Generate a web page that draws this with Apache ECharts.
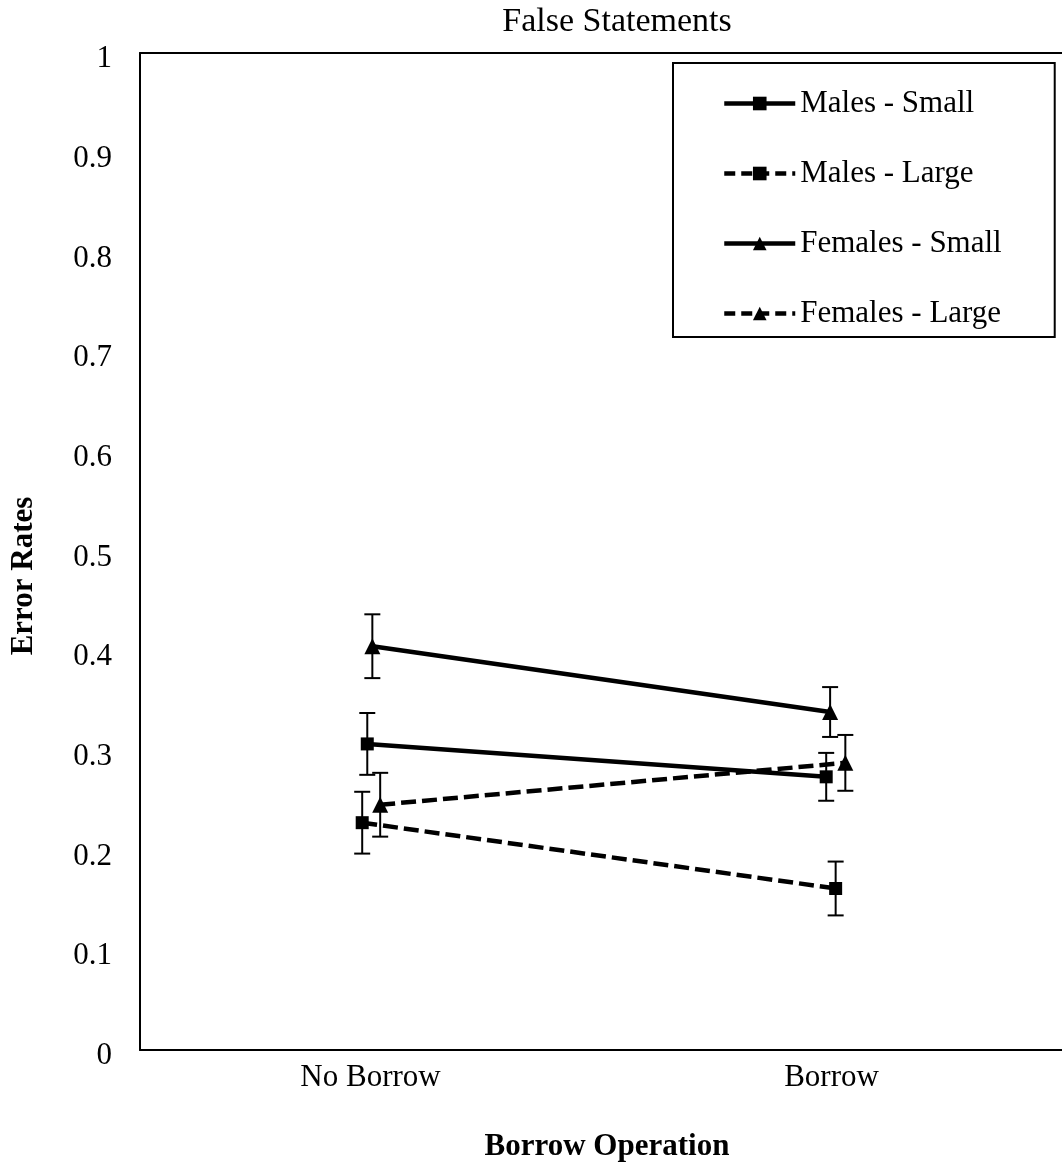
<!DOCTYPE html>
<html><head><meta charset="utf-8">
<script src="https://cdn.jsdelivr.net/npm/echarts@6/dist/echarts.min.js"></script>
<style>html,body{margin:0;padding:0;background:#fff}#c{width:1062px;height:1168px}</style>
</head><body><div id="c"></div>
<script>
const categories = ['No Borrow', 'Borrow'];
const seriesNames = ['Males - Small', 'Males - Large', 'Females - Small', 'Females - Large'];
const yTickLabels = ['0', '0.1', '0.2', '0.3', '0.4', '0.5', '0.6', '0.7', '0.8', '0.9', '1'];
const malesSmall = [0.307, 0.274];
const malesLarge = [0.228, 0.162];
const femalesSmall = [0.405, 0.339];
const femalesLarge = [0.246, 0.288];
const malesSmallErr = [0.031, 0.024];
const malesLargeErr = [0.031, 0.027];
const femalesSmallErr = [0.032, 0.025];
const femalesLargeErr = [0.032, 0.028];
// small horizontal shifts from category centre, in category units (as in picture)
const malesSmallShift = [-0.007, -0.0115];
const malesLargeShift = [-0.018, 0.009];
const femalesSmallShift = [0.004, -0.003];
const femalesLargeShift = [0.021, 0.030];

const FONT = 'Liberation Serif';
const BLACK = '#000';
const DASH = [15, 6];

function pts(vals, shift) { return vals.map((v, i) => [i + 0.5 + shift[i], v]); }

function lineSeries(name, vals, shift, symbol, size, dashed) {
  return {
    name, type: 'line', xAxisIndex: 1, yAxisIndex: 0, z: 3,
    data: pts(vals, shift),
    symbol, symbolSize: size, showSymbol: true,
    itemStyle: { color: BLACK, borderWidth: 0 },
    lineStyle: { color: BLACK, width: 4.5, type: dashed ? DASH : 'solid' },
    emphasis: { disabled: true },
    animation: false
  };
}

function errorSeries(vals, errs, shift) {
  return {
    type: 'custom', xAxisIndex: 1, yAxisIndex: 0, z: 2, silent: true,
    data: vals.map((v, i) => [i + 0.5 + shift[i], v - errs[i], v + errs[i]]),
    encode: { x: 0, y: [1, 2] },
    renderItem(params, api) {
      const x = api.value(0);
      const lo = api.coord([x, api.value(1)]);
      const hi = api.coord([x, api.value(2)]);
      const hw = 8;
      const style = { stroke: BLACK, lineWidth: 2 };
      return { type: 'group', children: [
        { type: 'line', shape: { x1: lo[0], y1: lo[1], x2: hi[0], y2: hi[1] }, style },
        { type: 'line', shape: { x1: lo[0] - hw, y1: lo[1], x2: lo[0] + hw, y2: lo[1] }, style },
        { type: 'line', shape: { x1: hi[0] - hw, y1: hi[1], x2: hi[0] + hw, y2: hi[1] }, style }
      ]};
    },
    animation: false
  };
}

const legendDashed = [false, true, false, true];
const chart = echarts.init(document.getElementById('c'), null, { renderer: 'canvas' });
chart.setOption({
  backgroundColor: '#fff',
  animation: false,
  grid: { left: 140, top: 53, width: 924, height: 997, containLabel: false },
  legend: {
    orient: 'vertical', left: 673, top: 63,
    data: seriesNames.map((n, i) => ({
      name: n,
      lineStyle: { width: 4.5, color: BLACK, type: legendDashed[i] ? [11, 6] : 'solid' }
    })),
    itemWidth: 71, itemHeight: 17, itemGap: 39,
    padding: [25, 53, 8, 49],
    borderColor: BLACK, borderWidth: 2, backgroundColor: '#fff',
    textStyle: { fontFamily: FONT, fontSize: 31, color: BLACK },
    selectedMode: false
  },
  xAxis: [
    {
      type: 'category', data: categories, position: 'bottom', boundaryGap: true,
      axisLine: { show: true, lineStyle: { color: BLACK, width: 2 } },
      axisTick: { show: false },
      splitLine: { show: false },
      axisLabel: { fontFamily: FONT, fontSize: 31, color: BLACK, margin: 12 }
    },
    {
      type: 'value', min: 0, max: 2, position: 'top',
      axisLine: { show: true, lineStyle: { color: BLACK, width: 2 } },
      axisTick: { show: false }, axisLabel: { show: false }, splitLine: { show: false }
    }
  ],
  yAxis: {
    type: 'value', min: 0, max: 1, interval: 0.1,
    axisLine: { show: true, lineStyle: { color: BLACK, width: 2 } },
    axisTick: { show: false }, splitLine: { show: false },
    axisLabel: {
      fontFamily: FONT, fontSize: 31, color: BLACK, margin: 28,
      verticalAlign: 'top', lineHeight: 12,
      formatter: v => yTickLabels[Math.round(v * 10)]
    }
  },
  graphic: [
    { type: 'text', x: 617, y: 22, style: { text: 'False Statements', font: '34px "Liberation Serif"', fill: BLACK, textAlign: 'center', textVerticalAlign: 'middle' } },
    { type: 'text', x: 607, y: 1147, style: { text: 'Borrow Operation', font: 'bold 31px "Liberation Serif"', fill: BLACK, textAlign: 'center', textVerticalAlign: 'middle' } },
    { type: 'text', x: 24, y: 576, rotation: Math.PI / 2, style: { text: 'Error Rates', font: 'bold 31px "Liberation Serif"', fill: BLACK, textAlign: 'center', textVerticalAlign: 'middle' } }
  ],
  series: [
    errorSeries(malesSmall, malesSmallErr, malesSmallShift),
    errorSeries(malesLarge, malesLargeErr, malesLargeShift),
    errorSeries(femalesSmall, femalesSmallErr, femalesSmallShift),
    errorSeries(femalesLarge, femalesLargeErr, femalesLargeShift),
    lineSeries(seriesNames[0], malesSmall, malesSmallShift, 'rect', 13, false),
    lineSeries(seriesNames[1], malesLarge, malesLargeShift, 'rect', 13, true),
    lineSeries(seriesNames[2], femalesSmall, femalesSmallShift, 'triangle', 16, false),
    lineSeries(seriesNames[3], femalesLarge, femalesLargeShift, 'triangle', 16, true)
  ]
});
</script>
</body></html>
